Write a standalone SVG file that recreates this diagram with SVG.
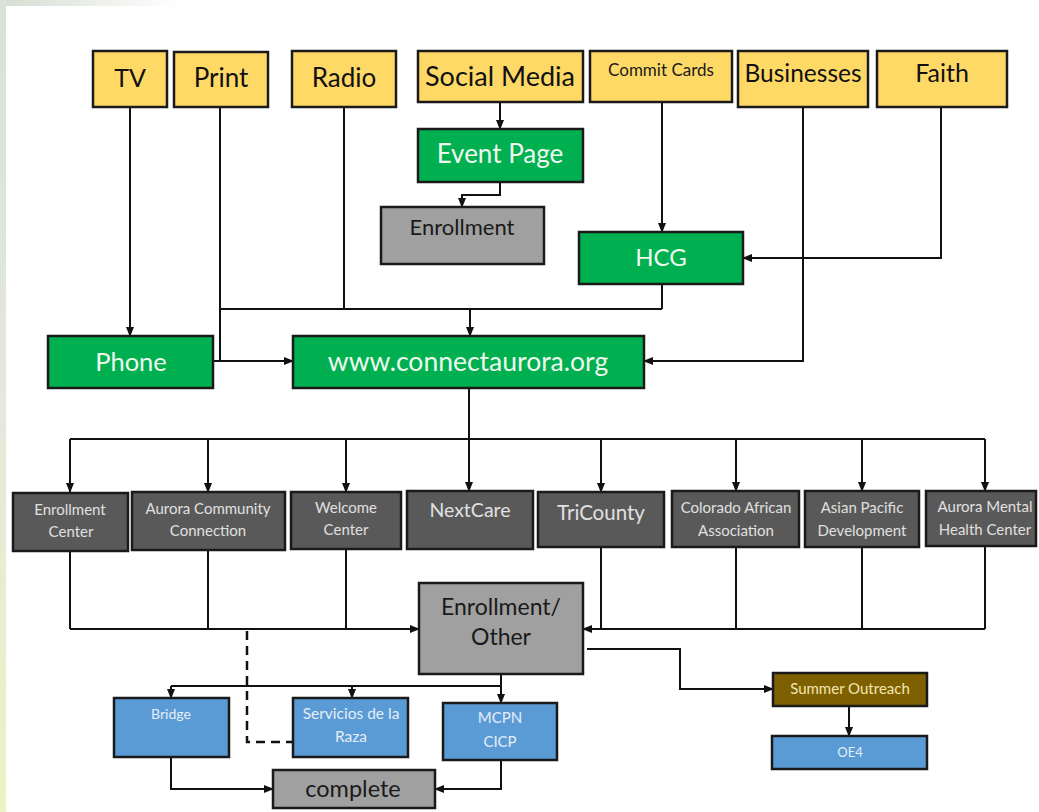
<svg xmlns="http://www.w3.org/2000/svg" width="1039" height="812" viewBox="0 0 1039 812">
<defs>
<linearGradient id="edge" x1="0" y1="0" x2="0" y2="1">
<stop offset="0" stop-color="#d9e2d6"/>
<stop offset="0.5" stop-color="#e3e9dc"/>
<stop offset="1" stop-color="#eef2c4"/>
</linearGradient>
<linearGradient id="topedge" x1="0" y1="0" x2="1" y2="0">
<stop offset="0" stop-color="#d6ddd2"/>
<stop offset="1" stop-color="#ffffff"/>
</linearGradient>
<marker id="ah" markerUnits="userSpaceOnUse" markerWidth="10" markerHeight="10" viewBox="0 0 10 10" refX="9" refY="5" orient="auto">
<path d="M0,1 L10,5 L0,9 z" fill="#111"/>
</marker>
</defs>
<style>
text{font-family:Lato,"Open Sans","Liberation Sans",sans-serif;text-anchor:middle}
.box{stroke:#1a1a1a;stroke-width:2.5}
.y{fill:#FFD966}
.g{fill:#00B050}
.lg{fill:#A0A0A0}
.dg{fill:#595959}
.b{fill:#5B9BD5}
.br{fill:#7F6000}
.ty{fill:#111;font-size:26px}
.tw{fill:#eef8ee;font-size:26px}
.tk{fill:#1a1a1a}
.td{fill:#e0e0e0;font-size:15px}
.tb{fill:#e6eef8;font-size:14px}
.c{fill:none;stroke:#111;stroke-width:2}
.ca{fill:none;stroke:#111;stroke-width:2;marker-end:url(#ah)}
.dash{fill:none;stroke:#111;stroke-width:2.5;stroke-dasharray:9,6}
</style>
<rect width="1039" height="812" fill="#ffffff"/>
<rect x="0" y="0" width="180" height="6" fill="url(#topedge)"/>
<rect x="0" y="0" width="6" height="812" fill="url(#edge)"/>

<g id="connectors">
<path class="ca" d="M130,107 V336"/>
<path class="c" d="M220,107 V361"/>
<path class="c" d="M344,107 V309"/>
<path class="c" d="M220,309 H662"/>
<path class="c" d="M662,284 V309"/>
<path class="ca" d="M470,309 V336"/>
<path class="ca" d="M213,361 H293"/>
<path class="ca" d="M500,102 V129"/>
<path class="ca" d="M500,182 V195 H462 V207"/>
<path class="ca" d="M662,102 V232"/>
<path class="ca" d="M941,107 V258 H743"/>
<path class="ca" d="M803,107 V361 H644"/>
<path class="c" d="M469,388 V439"/>
<path class="c" d="M70,439 H985"/>
<path class="ca" d="M70,439 V492"/>
<path class="ca" d="M208,439 V492"/>
<path class="ca" d="M346,439 V492"/>
<path class="ca" d="M469,439 V491"/>
<path class="ca" d="M601,439 V492"/>
<path class="ca" d="M736,439 V491"/>
<path class="ca" d="M862,439 V491"/>
<path class="ca" d="M985,439 V491"/>
<path class="c" d="M70,551 V629"/>
<path class="c" d="M208,550 V629"/>
<path class="c" d="M346,549 V629"/>
<path class="ca" d="M70,629 H419"/>
<path class="c" d="M601,547 V629"/>
<path class="c" d="M736,547 V629"/>
<path class="c" d="M862,547 V629"/>
<path class="c" d="M985,546 V629"/>
<path class="ca" d="M985,629 H583"/>
<path class="dash" d="M247,631 V742 H293"/>
<path class="c" d="M501,674 V686"/>
<path class="c" d="M171,686 H501"/>
<path class="ca" d="M171,686 V698"/>
<path class="ca" d="M352,686 V698"/>
<path class="ca" d="M501,686 V703"/>
<path class="ca" d="M587,649 H680 V689 H773"/>
<path class="ca" d="M849,706 V736"/>
<path class="ca" d="M171,757 V789 H273"/>
<path class="ca" d="M501,760 V789 H435"/>
</g>

<g id="tv"><rect class="box y" x="93" y="51" width="74" height="56"/><text class="ty" x="130" y="87" style="font-size:25px">TV</text></g>
<g id="print"><rect class="box y" x="174" y="52" width="94" height="55"/><text class="ty" x="221" y="87">Print</text></g>
<g id="radio"><rect class="box y" x="292" y="51" width="104" height="56"/><text class="ty" x="344" y="87">Radio</text></g>
<g id="social-media"><rect class="box y" x="418" y="51" width="165" height="51"/><text class="ty" x="500" y="86" style="font-size:27px">Social Media</text></g>
<g id="commit-cards"><rect class="box y" x="590" y="51" width="142" height="51"/><text class="tk" x="661" y="76" style="font-size:17px">Commit Cards</text></g>
<g id="businesses"><rect class="box y" x="738" y="51" width="130" height="56"/><text class="ty" x="803" y="82" style="font-size:24.5px">Businesses</text></g>
<g id="faith"><rect class="box y" x="877" y="51" width="130" height="56"/><text class="ty" x="942" y="82" style="font-size:25px">Faith</text></g>

<g id="event-page"><rect class="box g" x="418" y="129" width="165" height="53"/><text class="tw" x="500" y="163">Event Page</text></g>
<g id="enrollment"><rect class="box lg" x="381" y="207" width="163" height="57"/><text class="tk" x="462" y="235" style="font-size:22px">Enrollment</text></g>
<g id="hcg"><rect class="box g" x="579" y="232" width="164" height="52"/><text class="tw" x="661" y="266" style="font-size:24px">HCG</text></g>
<g id="phone"><rect class="box g" x="48" y="336" width="165" height="52"/><text class="tw" x="131" y="371" style="font-size:25.5px">Phone</text></g>
<g id="connectaurora"><rect class="box g" x="293" y="336" width="351" height="52"/><text class="tw" x="468" y="371" style="font-size:26.5px">www.connectaurora.org</text></g>

<g id="enrollment-center"><rect class="box dg" x="13" y="493" width="115" height="58"/><text class="td" x="70" y="515">Enrollment</text><text class="td" x="71" y="537">Center</text></g>
<g id="aurora-community"><rect class="box dg" x="132" y="492" width="153" height="58"/><text class="td" x="208" y="514">Aurora Community</text><text class="td" x="208" y="536">Connection</text></g>
<g id="welcome-center"><rect class="box dg" x="291" y="492" width="110" height="57"/><text class="td" x="346" y="513">Welcome</text><text class="td" x="346" y="535">Center</text></g>
<g id="nextcare"><rect class="box dg" x="407" y="491" width="126" height="58"/><text class="td" x="470" y="517" style="font-size:19.5px">NextCare</text></g>
<g id="tricounty"><rect class="box dg" x="538" y="492" width="126" height="55"/><text class="td" x="601" y="520" style="font-size:20.5px">TriCounty</text></g>
<g id="colorado-african"><rect class="box dg" x="672" y="491" width="127" height="56"/><text class="td" x="736" y="513">Colorado African</text><text class="td" x="736" y="536">Association</text></g>
<g id="asian-pacific"><rect class="box dg" x="805" y="491" width="114" height="56"/><text class="td" x="862" y="513">Asian Pacific</text><text class="td" x="862" y="536">Development</text></g>
<g id="aurora-mental"><rect class="box dg" x="926" y="491" width="110" height="55"/><text class="td" x="985" y="512">Aurora Mental</text><text class="td" x="985" y="535">Health Center</text></g>

<g id="enrollment-other"><rect class="box lg" x="419" y="583" width="164" height="91"/><text class="tk" x="501" y="615" style="font-size:23px">Enrollment/</text><text class="tk" x="501" y="645" style="font-size:23px">Other</text></g>

<g id="bridge"><rect class="box b" x="114" y="698" width="115" height="59"/><text class="tb" x="171" y="719">Bridge</text></g>
<g id="servicios"><rect class="box b" x="293" y="698" width="115" height="59"/><text class="tb" x="351" y="719" style="font-size:15.5px">Servicios de la</text><text class="tb" x="351" y="742" style="font-size:15.5px">Raza</text></g>
<g id="mcpn-cicp"><rect class="box b" x="443" y="703" width="114" height="57"/><text class="tb" x="500" y="723" style="font-size:15px">MCPN</text><text class="tb" x="500" y="747" style="font-size:15px">CICP</text></g>
<g id="complete"><rect class="box lg" x="273" y="770" width="162" height="38"/><text class="tk" x="353" y="797" style="font-size:23.5px">complete</text></g>

<g id="summer-outreach"><rect class="box br" x="773" y="673" width="154" height="33"/><text x="850" y="694" style="font-size:15px" fill="#f2e6b0">Summer Outreach</text></g>
<g id="oe4"><rect class="box b" x="772" y="736" width="155" height="33"/><text class="tb" x="850" y="757" style="font-size:13px">OE4</text></g>
</svg>
